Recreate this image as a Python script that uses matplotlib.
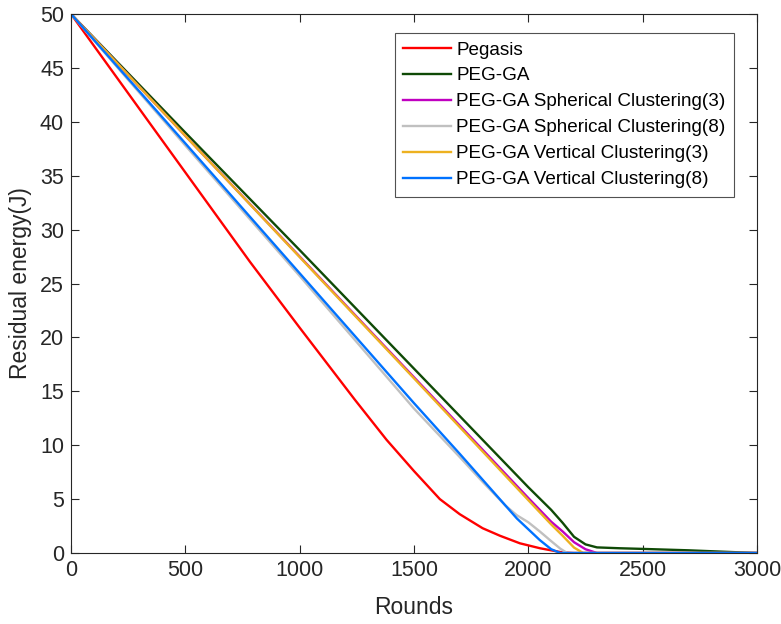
import matplotlib
matplotlib.use("Agg")
import matplotlib.pyplot as plt

plt.rcParams['font.family'] = ['Liberation Sans', 'DejaVu Sans']

pegasis_x = [0, 340, 783, 1000, 1242, 1380, 1500, 1613, 1700, 1800, 1876, 1963, 2051, 2150, 2200, 3000]
pegasis_y = [50, 40, 27.0, 20.9, 14.2, 10.5, 7.6, 5.0, 3.6, 2.3, 1.6, 0.9, 0.44, 0.05, 0, 0]

pegga_x = [0, 500, 1000, 1500, 2000, 2100, 2150, 2200, 2250, 2300, 2400, 2500, 2700, 2900, 3000]
pegga_y = [50, 39.0, 28.1, 17.1, 6.1, 4.0, 2.8, 1.5, 0.8, 0.52, 0.44, 0.38, 0.25, 0.08, 0]

sc3_x = [0, 500, 1000, 1500, 2000, 2100, 2150, 2200, 2250, 2300, 3000]
sc3_y = [50, 38.7, 27.5, 16.3, 5.1, 2.9, 2.0, 1.0, 0.35, 0, 0]

sc8_x = [0, 500, 1000, 1500, 1700, 1800, 1900, 1950, 2000, 2050, 2100, 2140, 2170, 3000]
sc8_y = [50, 37.8, 25.7, 13.4, 8.9, 6.6, 4.4, 3.5, 2.85, 2.0, 1.1, 0.4, 0, 0]

vc3_x = [0, 500, 1000, 1500, 2000, 2100, 2150, 2200, 2240, 3000]
vc3_y = [50, 38.7, 27.45, 16.2, 4.9, 2.65, 1.6, 0.5, 0, 0]

vc8_x = [0, 500, 1000, 1500, 1700, 1800, 1900, 1950, 2000, 2050, 2100, 2140, 3000]
vc8_y = [50, 38.0, 25.95, 13.9, 9.2, 6.8, 4.4, 3.2, 2.2, 1.2, 0.35, 0, 0]

labels = ["Pegasis", "PEG-GA", "PEG-GA Spherical Clustering(3)", "PEG-GA Spherical Clustering(8)",
          "PEG-GA Vertical Clustering(3)", "PEG-GA Vertical Clustering(8)"]
colors = ["#ff0000", "#0f4a06", "#c000c0", "#c0c0c0", "#edb120", "#0072ff"]

fig = plt.figure(figsize=(7.81, 6.24), dpi=100)
ax = fig.add_axes([71/781, 71/624, 686/781, 539/624])

series = [(pegasis_x, pegasis_y), (pegga_x, pegga_y), (sc3_x, sc3_y), (sc8_x, sc8_y), (vc3_x, vc3_y), (vc8_x, vc8_y)]
for (x, y), lab, c in zip(series, labels, colors):
    ax.plot(x, y, color=c, lw=1.7, label=lab)

ax.set_xlim(0, 3000)
ax.set_ylim(0, 50)
ax.set_xticks(range(0, 3001, 500))
ax.set_yticks(range(0, 51, 5))
ax.tick_params(direction='in', top=True, right=True, labelsize=15.5, length=6, width=0.8,
               colors='#262626', pad=5)
for s in ax.spines.values():
    s.set_linewidth(0.8)
    s.set_color('#262626')
ax.set_xlabel("Rounds", fontsize=16.5, color='#262626', labelpad=11)
ax.set_ylabel("Residual energy(J)", fontsize=16.5, color='#262626', labelpad=6)
leg = ax.legend(loc='upper right', bbox_to_anchor=(0.9665, 0.965), fontsize=13.6, frameon=True, fancybox=False,
                edgecolor='#262626', handlelength=2.5, handletextpad=0.3, borderpad=0.45,
                labelspacing=0.46, borderaxespad=0)
leg.get_frame().set_linewidth(0.8)
fig.savefig("out.png", dpi=100)
